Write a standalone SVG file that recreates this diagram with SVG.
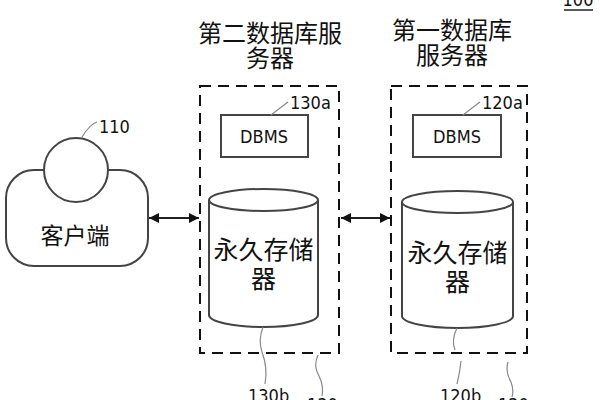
<svg xmlns="http://www.w3.org/2000/svg" width="600" height="400" viewBox="0 0 600 400">
<defs>
<style>
.cjk{font-family:"Noto Sans CJK SC","Noto Sans",sans-serif;fill:#111;text-anchor:middle}
.num{font-family:"Liberation Sans Narrow","DejaVu Sans Condensed","Liberation Sans",sans-serif;fill:#111;font-size:18px}
.dash{fill:none;stroke:#111;stroke-width:2;stroke-dasharray:11 7}
.shape{fill:#fff;stroke:#444;stroke-width:2}
.lead{fill:none;stroke:#888;stroke-width:1.2}
.conn{stroke:#222;stroke-width:2;fill:none}
</style>
<marker id="ah" viewBox="0 0 10 10" refX="10" refY="5" markerWidth="11" markerHeight="10" orient="auto-start-reverse" markerUnits="userSpaceOnUse">
<path d="M0,0 L10,5 L0,10 z" fill="#111"/>
</marker>
</defs>
<rect width="600" height="400" fill="#fff"/>

<g id="label-100">
<text class="num" x="578" y="6" text-anchor="middle">100</text>
<line x1="564" y1="10" x2="593" y2="10" stroke="#222" stroke-width="1.5"/>
</g>

<g id="client">
<rect class="shape" x="6" y="170" width="142" height="96" rx="28"/>
<circle class="shape" cx="76" cy="170" r="32"/>
<text class="cjk" x="75" y="244" font-size="23">客户端</text>
<path class="lead" d="M82,137 Q90,124 97,122"/>
<text class="num" x="99" y="133">110</text>
</g>

<g id="server2">
<text class="cjk" font-size="24"><tspan x="270" y="42">第二数据库服</tspan><tspan x="270" y="67">务器</tspan></text>
<rect class="dash" x="200" y="86" width="139" height="267"/>
<g id="dbms2">
<rect class="shape" x="221" y="115" width="87" height="42"/>
<text class="num" x="264" y="143" text-anchor="middle" font-size="17">DBMS</text>
<path class="lead" d="M271,115 Q280,108 288,102"/>
<text class="num" x="290" y="109">130a</text>
</g>
<g id="storage2">
<path class="shape" d="M209,200 L209,315 A54.5,12 0 0 0 318,315 L318,200"/>
<ellipse class="shape" cx="263.5" cy="200" rx="54.5" ry="11"/>
<text class="cjk" font-size="25"><tspan x="263.5" y="259">永久存储</tspan><tspan x="263.5" y="288">器</tspan></text>
<path class="lead" d="M263,327 Q258,340 262,352 Q268,368 265,384"/>
<text class="num" x="248" y="402">130b</text>
</g>
<path class="lead" d="M318,355 Q313,366 319,376 Q324,386 322,396"/>
<text class="num" x="307" y="411">130</text>
</g>

<g id="server1">
<text class="cjk" font-size="24"><tspan x="452" y="39">第一数据库</tspan><tspan x="452" y="64">服务器</tspan></text>
<rect class="dash" x="391" y="86" width="136" height="267"/>
<g id="dbms1">
<rect class="shape" x="413" y="115" width="88" height="42"/>
<text class="num" x="457" y="143" text-anchor="middle" font-size="17">DBMS</text>
<path class="lead" d="M463,115 Q472,108 480,102"/>
<text class="num" x="482" y="109">120a</text>
</g>
<g id="storage1">
<path class="shape" d="M402,202 L402,316 A55.5,12 0 0 0 513,316 L513,202"/>
<ellipse class="shape" cx="457.5" cy="202" rx="55.5" ry="11"/>
<text class="cjk" font-size="25"><tspan x="457.5" y="262">永久存储</tspan><tspan x="457.5" y="291">器</tspan></text>
<path class="lead" d="M457,328 Q451,340 455,350"/>
<path class="lead" d="M461,361 Q460,372 457,384"/>
<text class="num" x="440" y="402">120b</text>
</g>
<path class="lead" d="M508,362 Q505,372 511,382 Q514,390 512,397"/>
<text class="num" x="498" y="411">120</text>
</g>

<g id="connectors">
<line class="conn" x1="149" y1="218" x2="199" y2="218" marker-start="url(#ah)" marker-end="url(#ah)"/>
<line class="conn" x1="341" y1="218" x2="390" y2="218" marker-start="url(#ah)" marker-end="url(#ah)"/>
</g>
</svg>
